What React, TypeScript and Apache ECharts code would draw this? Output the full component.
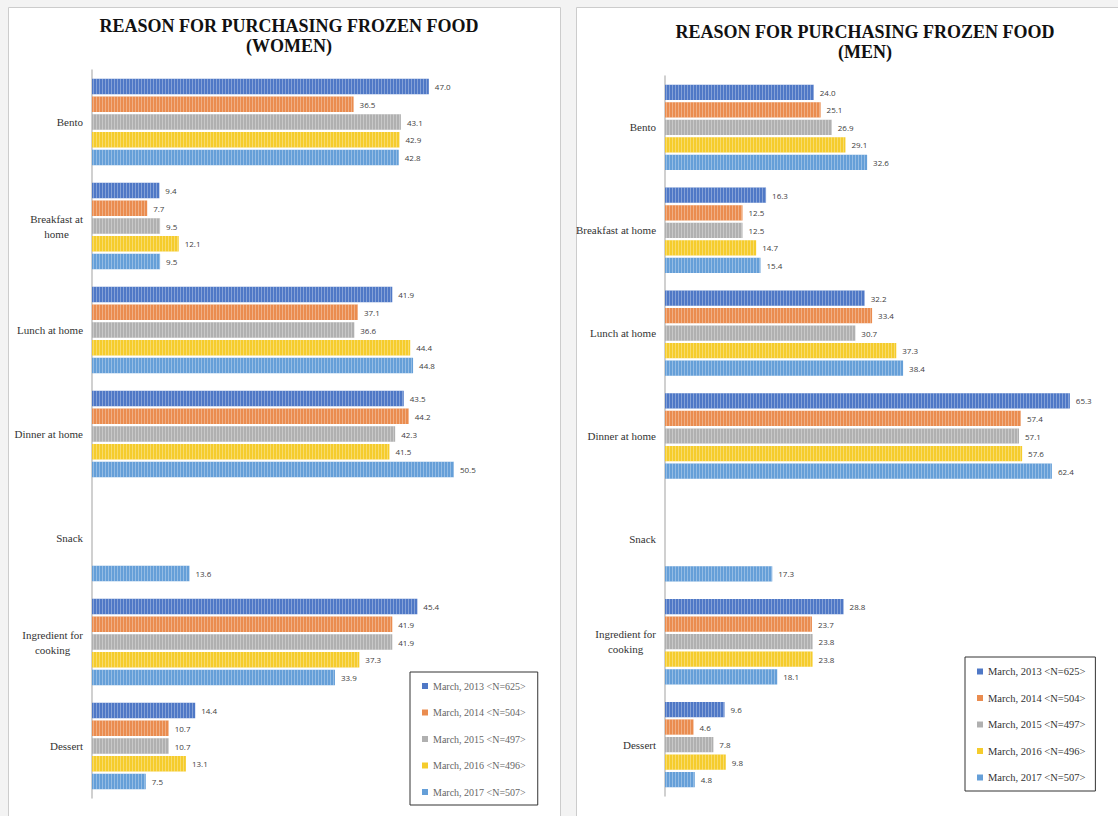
import React, { useEffect, useRef } from "react";
import * as echarts from "echarts";

const seriesNames = [
  "March, 2013 <N=625>",
  "March, 2014 <N=504>",
  "March, 2015 <N=497>",
  "March, 2016 <N=496>",
  "March, 2017 <N=507>",
];
const seriesColors = ["#4f78c6", "#ea8c4f", "#b0b0b0", "#f5cc2c", "#659fd8"];

const womenCategories = [
  "Bento",
  "Breakfast at\nhome",
  "Lunch at home",
  "Dinner at home",
  "Snack",
  "Ingredient for\ncooking",
  "Dessert",
];
const menCategories = [
  "Bento",
  "Breakfast at home",
  "Lunch at home",
  "Dinner at home",
  "Snack",
  "Ingredient for\ncooking",
  "Dessert",
];

// values per series (rows = years), columns = categories
const women2013 = [47.0, 9.4, 41.9, 43.5, null, 45.4, 14.4];
const women2014 = [36.5, 7.7, 37.1, 44.2, null, 41.9, 10.7];
const women2015 = [43.1, 9.5, 36.6, 42.3, null, 41.9, 10.7];
const women2016 = [42.9, 12.1, 44.4, 41.5, null, 37.3, 13.1];
const women2017 = [42.8, 9.5, 44.8, 50.5, 13.6, 33.9, 7.5];

const men2013 = [24.0, 16.3, 32.2, 65.3, null, 28.8, 9.6];
const men2014 = [25.1, 12.5, 33.4, 57.4, null, 23.7, 4.6];
const men2015 = [26.9, 12.5, 30.7, 57.1, null, 23.8, 7.8];
const men2016 = [29.1, 14.7, 37.3, 57.6, null, 23.8, 9.8];
const men2017 = [32.6, 15.4, 38.4, 62.4, 17.3, 18.1, 4.8];

const womenTitle = "REASON FOR PURCHASING FROZEN FOOD\n(WOMEN)";
const menTitle = "REASON FOR PURCHASING FROZEN FOOD\n(MEN)";

const womenData = [women2013, women2014, women2015, women2016, women2017];
const menData = [men2013, men2014, men2015, men2016, men2017];

const SERIF = "'Liberation Serif', 'Times New Roman', serif";
const SANS = "'Open Sans', 'Liberation Sans', sans-serif";

export default function App() {
  const ref = useRef<HTMLDivElement>(null);

  useEffect(() => {
    if (!ref.current) return;
    const chart = echarts.init(ref.current, undefined, { renderer: "svg" });

    const makeSeries = (data: (number | null)[][], idx: number) =>
      data.map((vals, i) => ({
        name: seriesNames[i],
        type: "bar",
        xAxisIndex: idx,
        yAxisIndex: idx,
        data: vals.map((v) => (v === null ? "-" : v)),
        barGap: "15%",
        barCategoryGap: "17%",
        itemStyle: {
          color: seriesColors[i],
          decal: {
            symbol: "rect",
            symbolSize: 1,
            dashArrayX: [1, 2],
            dashArrayY: [5, 0],
            color: "rgba(255,255,255,0.3)",
            rotation: 0,
          },
        },
        label: {
          show: true,
          position: "right",
          distance: 6,
          fontSize: 8,
          fontFamily: SANS,
          color: "#404040",
          formatter: (p: any) =>
            typeof p.value === "number" ? p.value.toFixed(1) : "",
        },
      }));

    const labelFormatter = (v: string) =>
      v
        .split("\n")
        .map((s) => `{c|${s}}`)
        .join("\n");

    const yAxisCommon = {
      type: "category",
      inverse: true,
      axisTick: { show: false },
      axisLine: { lineStyle: { color: "#c0c0c0", width: 1.5 } },
      axisLabel: {
        margin: 9,
        formatter: labelFormatter,
        rich: {
          c: {
            align: "center",
            fontFamily: SERIF,
            fontSize: 11,
            color: "#333333",
            lineHeight: 15,
          },
        },
      },
    };

    const legendCommon = {
      orient: "vertical",
      data: seriesNames,
      icon: "rect",
      itemWidth: 6,
      itemHeight: 6,
      borderColor: "#333333",
      borderWidth: 1,
      backgroundColor: "#ffffff",
      selectedMode: false,
      itemStyle: { decal: "none" },
    };

    const titleStyle = {
      fontFamily: SERIF,
      fontWeight: "bold",
      fontSize: 18,
      lineHeight: 20,
      color: "#111111",
    };

    chart.setOption({
      animation: false,
      backgroundColor: "#f3f3f3",
      graphic: [
        {
          type: "rect",
          z: -10,
          shape: { x: 8.5, y: 7.5, width: 552, height: 830 },
          style: { fill: "#ffffff", stroke: "#cccccc", lineWidth: 1 },
        },
        {
          type: "rect",
          z: -10,
          shape: { x: 576.5, y: 7.5, width: 570, height: 830 },
          style: { fill: "#ffffff", stroke: "#cccccc", lineWidth: 1 },
        },
      ],
      title: [
        {
          text: womenTitle,
          left: 284,
          top: 11,
          textAlign: "center",
          textStyle: titleStyle,
        },
        {
          text: menTitle,
          left: 860,
          top: 17,
          textAlign: "center",
          textStyle: titleStyle,
        },
      ],
      legend: [
        {
          ...legendCommon,
          left: 410,
          top: 672,
          itemGap: 16.5,
          padding: [9, 12, 8, 12],
          textStyle: { fontFamily: SERIF, fontSize: 10, color: "#666666" },
        },
        {
          ...legendCommon,
          left: 965,
          top: 657,
          itemGap: 15.5,
          padding: [9, 10, 8, 12],
          textStyle: { fontFamily: SERIF, fontSize: 10.5, color: "#333333" },
        },
      ],
      grid: [
        { left: 92, top: 70, width: 430, height: 728 },
        { left: 665, top: 76, width: 434, height: 720 },
      ],
      xAxis: [
        { type: "value", gridIndex: 0, min: 0, max: 60, show: false },
        { type: "value", gridIndex: 1, min: 0, max: 70, show: false },
      ],
      yAxis: [
        { ...yAxisCommon, gridIndex: 0, data: womenCategories },
        { ...yAxisCommon, gridIndex: 1, data: menCategories },
      ],
      series: [...makeSeries(womenData, 0), ...makeSeries(menData, 1)],
    });

    return () => chart.dispose();
  }, []);

  return (
    <div
      ref={ref}
      style={{ position: "fixed", left: 0, top: 0, width: 1118, height: 816 }}
    />
  );
}
